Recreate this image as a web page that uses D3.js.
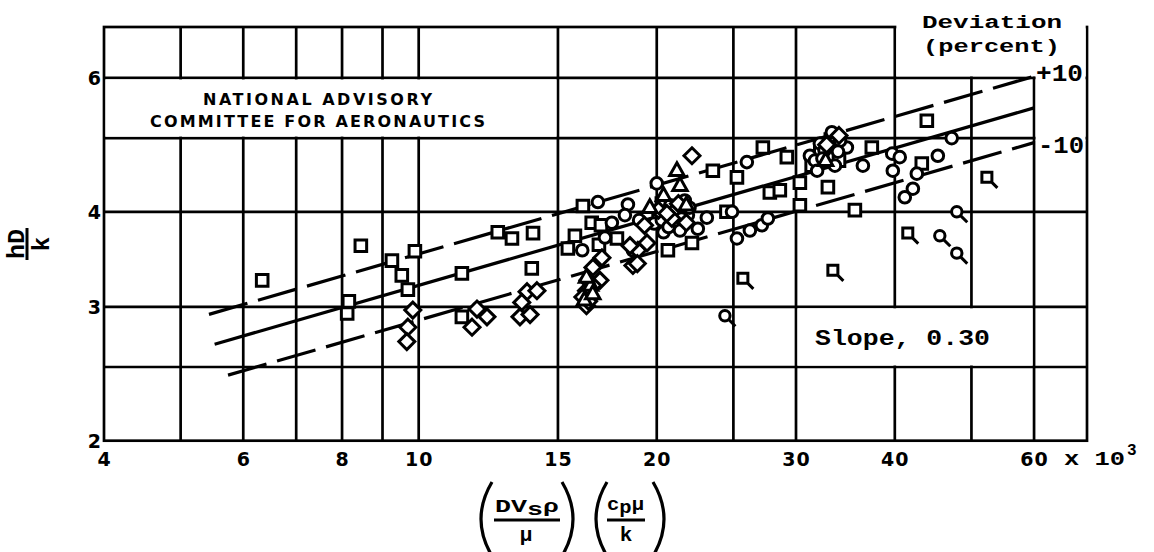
<!DOCTYPE html>
<html>
<head>
<meta charset="utf-8">
<script src="https://cdn.jsdelivr.net/npm/d3@7"></script>
<style>
html,body{margin:0;padding:0;background:#fff;}
svg{display:block;}
</style>
</head>
<body>
<svg id="chart" width="1154" height="552"></svg>
<script>
// ---- data (x in thousands, y = hD/k) ----
const xTickValues = [4, 6, 8, 10, 15, 20, 30, 40, 60];
const yTickValues = [2, 3, 4, 6];
const xGridValues = [5, 6, 7, 8, 9, 10, 15, 20, 25, 30, 40, 50, 60];
const yGridValues = [2.5, 3, 4, 5, 6];

const squares = [
  [6.34,3.25],[8.45,3.61],[8.16,3.05],[8.12,2.94],[9.25,3.45],[9.52,3.30],[9.69,3.16],[9.89,3.55],
  [11.34,3.32],[11.34,2.91],[12.59,3.76],[13.12,3.69],[13.95,3.75],[13.9,3.37],
  [15.44,3.58],[15.76,3.72],[16.13,4.07],[16.55,3.87],[17.81,3.69],[17.0,3.84],[16.9,3.62],
  [20.66,3.56],[22.16,3.64],[23.55,4.53],[25.26,4.44],[27.24,4.86],[29.21,4.72],
  [27.80,4.24],[28.62,4.27],[30.34,4.37],[32.92,4.31],[30.34,4.08],[35.61,4.02],[37.41,4.86],
  [43.27,4.63],[43.91,5.27],[24.5,4.0],[20.6,3.87],[21.6,4.02],[32.2,4.82],[33.4,4.74],[34.0,4.67],[31.4,4.60],
  [21.2,3.95],[20.3,4.1],[33.2,4.98]
];
const circles = [
  [16.85,4.12],[18.39,4.09],[18.23,3.96],[20.0,4.36],[17.2,3.70],[16.1,3.56],[18.66,3.56],[17.55,3.87],
  [22.54,3.80],[23.14,3.93],[26.0,4.65],[33.3,5.09],[34.79,4.86],[36.45,4.60],[39.7,4.77],[39.77,4.53],
  [25.26,3.69],[26.23,3.78],[27.16,3.84],[27.64,3.92],[47.21,5.0],[40.58,4.72],
  [45.34,4.74],[42.65,4.49],[42.16,4.29],[41.18,4.18],[31.24,4.74],[32.16,4.92],
  [20.1,3.96],[20.8,4.08],[21.7,4.14],[21.1,3.84],[21.9,3.96],[20.4,3.76],[19.85,3.86],[21.4,3.78],
  [31.7,4.67],[32.6,4.82],[33.6,4.60],[31.9,4.53],[34.1,4.96],[19.0,3.90],[24.9,4.0],
  [20.3,3.9],[21.0,4.0],[21.5,3.92],[20.7,3.82],[22.0,4.05],[33.0,4.88],[32.4,4.70],[33.9,4.80]
];
const diamonds = [
  [9.83,2.97],[9.69,2.82],[9.66,2.70],[11.85,2.98],[11.68,2.82],[12.2,2.91],
  [13.71,3.14],[13.5,3.04],[13.43,2.91],[13.83,2.93],[14.11,3.15],
  [16.61,3.38],[16.37,3.25],[16.3,3.15],[16.13,3.09],[16.3,3.01],[16.95,3.25],
  [18.66,3.40],[18.93,3.56],[18.5,3.61],[19.44,3.64],[22.16,4.74],[17.05,3.48],[18.9,3.42],
  [20.1,4.02],[20.9,3.92],[21.8,3.87],[19.3,3.84],[34.0,5.04],
  [21.3,4.1],[20.6,3.98],[16.4,3.05],[16.6,3.2],[32.8,4.9]
];
const triangles = [
  [21.21,4.53],[21.40,4.33],[19.6,4.05],[16.5,3.20],[16.2,3.06],[20.4,4.2],[21.8,4.08],[32.7,4.67],[16.6,3.12],
  [16.3,3.28]
];
const flaggedSquares = [[25.7,3.27],[33.4,3.35],[41.54,3.75],[52.3,4.44]];
const flaggedCircles = [[24.39,2.92],[45.6,3.72],[47.91,3.53],[47.91,4.0]];

// fitted line: slope 0.30, value 5.48 at x = 60; deviation lines +/-10 percent
const fitSlope = 0.30;
const fitRefX = 60;
const fitRefY = 5.48;
const deviationPercents = [10, 0, -10];
const deviationStartX = [5.43, 5.52, 5.74];
const deviationEndX = [60, 60, 60];

// ---- layout ----
const svg = d3.select("#chart");
const x = d3.scaleLog().domain([4, 70]).range([104, 1087]);
const y = d3.scaleLog().domain([2, 7]).range([440.7, 27]);
const LW = 2.7;
const sansB = "'DejaVu Sans', sans-serif";
const mono = "'Liberation Mono', 'DejaVu Sans Mono', monospace";

// grid
const grid = svg.append("g").attr("stroke", "#000").attr("stroke-width", LW).attr("fill", "none");
grid.selectAll("line.v").data(xGridValues).join("line")
  .attr("x1", d => x(d)).attr("x2", d => x(d))
  .attr("y1", y.range()[1]).attr("y2", y.range()[0]);
grid.selectAll("line.h").data(yGridValues).join("line")
  .attr("x1", x.range()[0]).attr("x2", x.range()[1])
  .attr("y1", d => y(d)).attr("y2", d => y(d));
grid.append("rect")
  .attr("x", x.range()[0]).attr("y", y.range()[1])
  .attr("width", x.range()[1] - x.range()[0]).attr("height", y.range()[0] - y.range()[1]);

// white boxes that break the grid
const h = LW / 2 + 0.2;
const boxes = svg.append("g").attr("fill", "#fff");
boxes.append("rect") // NACA box
  .attr("x", x(4) + h).attr("y", y(6) + h)
  .attr("width", x(15) - x(4) - 2 * h).attr("height", y(5) - y(6) - 2 * h);
boxes.append("rect") // slope box
  .attr("x", x(30) + h).attr("y", y(3) + h)
  .attr("width", x(60) - x(30) - 2 * h).attr("height", y(2.5) - y(3) - 2 * h);
boxes.append("rect") // deviation label area
  .attr("x", x(40) + h).attr("y", 0)
  .attr("width", x(70) - x(40) - 2 * h).attr("height", y(6) - h);
boxes.append("rect")
  .attr("x", x(60) + h).attr("y", 0)
  .attr("width", x(70) - x(60) - 2 * h).attr("height", y(5) + h + 1);

// fitted / deviation lines
const lineGen = d3.line().x(d => x(d[0])).y(d => y(d[1]));
deviationPercents.forEach((p, i) => {
  const f = v => fitRefY * (1 + p / 100) * Math.pow(v / fitRefX, fitSlope);
  const pts = [[deviationStartX[i], f(deviationStartX[i])], [deviationEndX[i], f(deviationEndX[i])]];
  svg.append("path").attr("d", lineGen(pts))
    .attr("fill", "none").attr("stroke", "#000").attr("stroke-width", 3.2)
    .attr("stroke-dasharray", p === 0 ? null : "40,11");
});

// markers
const mk = svg.append("g").attr("fill", "#fff").attr("stroke", "#000").attr("stroke-width", 3);
const tr = d => `translate(${x(d[0])},${y(d[1])})`;
mk.selectAll("path.sq").data(squares).join("path").attr("transform", tr)
  .attr("d", "M-5.8,-5.8H5.8V5.8H-5.8Z");
mk.selectAll("circle.c").data(circles).join("circle")
  .attr("cx", d => x(d[0])).attr("cy", d => y(d[1])).attr("r", 5.8);
mk.selectAll("path.dm").data(diamonds).join("path").attr("transform", tr)
  .attr("d", "M0,-8L8,0L0,8L-8,0Z");
mk.selectAll("path.tr").data(triangles).join("path").attr("transform", tr)
  .attr("d", "M0,-8L7.2,4.8L-7.2,4.8Z");
mk.selectAll("path.fs").data(flaggedSquares).join("path").attr("transform", tr)
  .attr("d", "M-5,-5H5V5H-5Z M4,4L10.5,10.5");
const fc = mk.selectAll("g.fc").data(flaggedCircles).join("g").attr("transform", tr);
fc.append("circle").attr("r", 5.2);
fc.append("path").attr("d", "M3.8,3.8L10.5,10.5");

// axes tick labels
const xAxis = d3.axisBottom(x).tickValues(xTickValues).tickSize(0).tickPadding(0)
  .tickFormat(d3.format("d"));
const gx = svg.append("g").attr("transform", `translate(0,${y.range()[0]})`).call(xAxis);
gx.select(".domain").remove();
gx.selectAll("text").attr("font-family", sansB).attr("font-weight", "bold")
  .attr("font-size", 19).attr("fill", "#000").attr("dy", null).attr("y", 25)
  .attr("letter-spacing", 1);

const yAxis = d3.axisLeft(y).tickValues(yTickValues).tickSize(0).tickPadding(0)
  .tickFormat(d3.format("d"));
const gy = svg.append("g").attr("transform", `translate(${x.range()[0] - 2},0)`).call(yAxis);
gy.select(".domain").remove();
gy.selectAll("text").attr("font-family", sansB).attr("font-weight", "bold")
  .attr("font-size", 19).attr("fill", "#000").attr("dy", "0.36em").attr("x", -1);

// "x 10^3"
svg.append("text").attr("x", 1064).attr("y", 465).attr("font-family", mono)
  .attr("font-weight", "bold").attr("font-size", 20)
  .attr("textLength", 61).attr("lengthAdjust", "spacingAndGlyphs").text("x 10");
svg.append("text").attr("x", 1127).attr("y", 455).attr("font-family", mono)
  .attr("font-weight", "bold").attr("font-size", 16).text("3");

// NACA label
const naca = svg.append("g").attr("font-family", sansB).attr("font-weight", "bold")
  .attr("font-size", 16).attr("fill", "#000").attr("lengthAdjust", "spacing");
naca.append("text").attr("x", 203).attr("y", 105).attr("textLength", 229).text("NATIONAL ADVISORY");
naca.append("text").attr("x", 150).attr("y", 127).attr("textLength", 335).text("COMMITTEE FOR AERONAUTICS");

// Deviation labels
const dev = svg.append("g").attr("font-family", mono).attr("font-weight", "bold").attr("fill", "#000");
dev.append("text").attr("x", 922).attr("y", 28).attr("font-size", 19)
  .attr("textLength", 140).attr("lengthAdjust", "spacingAndGlyphs").text("Deviation");
dev.append("text").attr("x", 923).attr("y", 52).attr("font-size", 19)
  .attr("textLength", 137).attr("lengthAdjust", "spacingAndGlyphs").text("(percent)");
dev.append("text").attr("x", 1036).attr("y", 81).attr("font-size", 24)
  .attr("textLength", 47).attr("lengthAdjust", "spacingAndGlyphs").text("+10");
dev.append("text").attr("x", 1038).attr("y", 153).attr("font-size", 24)
  .attr("textLength", 46).attr("lengthAdjust", "spacingAndGlyphs").text("-10");

// Slope label
svg.append("text").attr("x", 815).attr("y", 345).attr("font-family", mono).attr("font-weight", "bold")
  .attr("font-size", 22).attr("textLength", 175).attr("lengthAdjust", "spacingAndGlyphs")
  .text("Slope, 0.30");

// y-axis label hD/k (rotated)
const yl = svg.append("g").attr("transform", "translate(36,244) rotate(-90)")
  .attr("font-family", mono).attr("font-weight", "bold").attr("fill", "#000");
yl.append("text").attr("x", 0).attr("y", -12).attr("text-anchor", "middle").attr("font-size", 24)
  .attr("textLength", 30).attr("lengthAdjust", "spacingAndGlyphs").text("hD");
yl.append("line").attr("x1", -16).attr("x2", 16).attr("y1", -9).attr("y2", -9)
  .attr("stroke", "#000").attr("stroke-width", 3);
yl.append("text").attr("x", 0).attr("y", 13).attr("text-anchor", "middle").attr("font-size", 24).text("k");

// x-axis label: (DVsρ/μ) (cpμ/k)
const xl = svg.append("g").attr("font-family", mono).attr("font-weight", "bold").attr("fill", "#000");
const parens = [[492, -1], [562, 1], [607, -1], [653, 1]];
parens.forEach(([px, s]) => {
  const bulge = s < 0 ? px - 22 : px + 22;
  xl.append("path").attr("d", `M${px},482 Q${bulge},519 ${px},556`)
    .attr("fill", "none").attr("stroke", "#000").attr("stroke-width", 3.2);
});
const f1 = xl.append("text").attr("x", 495).attr("y", 512).attr("font-size", 19)
  .attr("textLength", 64).attr("lengthAdjust", "spacingAndGlyphs");
f1.append("tspan").text("DV");
f1.append("tspan").attr("dy", 3).text("s");
f1.append("tspan").attr("dy", -3).text("ρ");
xl.append("line").attr("x1", 494).attr("x2", 560).attr("y1", 520).attr("y2", 520)
  .attr("stroke", "#000").attr("stroke-width", 3);
xl.append("text").attr("x", 526).attr("y", 541).attr("text-anchor", "middle").attr("font-size", 21).text("μ");
const f2 = xl.append("text").attr("x", 607).attr("y", 510).attr("font-size", 19)
  .attr("textLength", 37).attr("lengthAdjust", "spacingAndGlyphs");
f2.append("tspan").text("c");
f2.append("tspan").attr("dy", 3).text("p");
f2.append("tspan").attr("dy", -3).text("μ");
xl.append("line").attr("x1", 607).attr("x2", 645).attr("y1", 520).attr("y2", 520)
  .attr("stroke", "#000").attr("stroke-width", 3);
xl.append("text").attr("x", 626).attr("y", 541).attr("text-anchor", "middle").attr("font-size", 21).text("k");
</script>
</body>
</html>
